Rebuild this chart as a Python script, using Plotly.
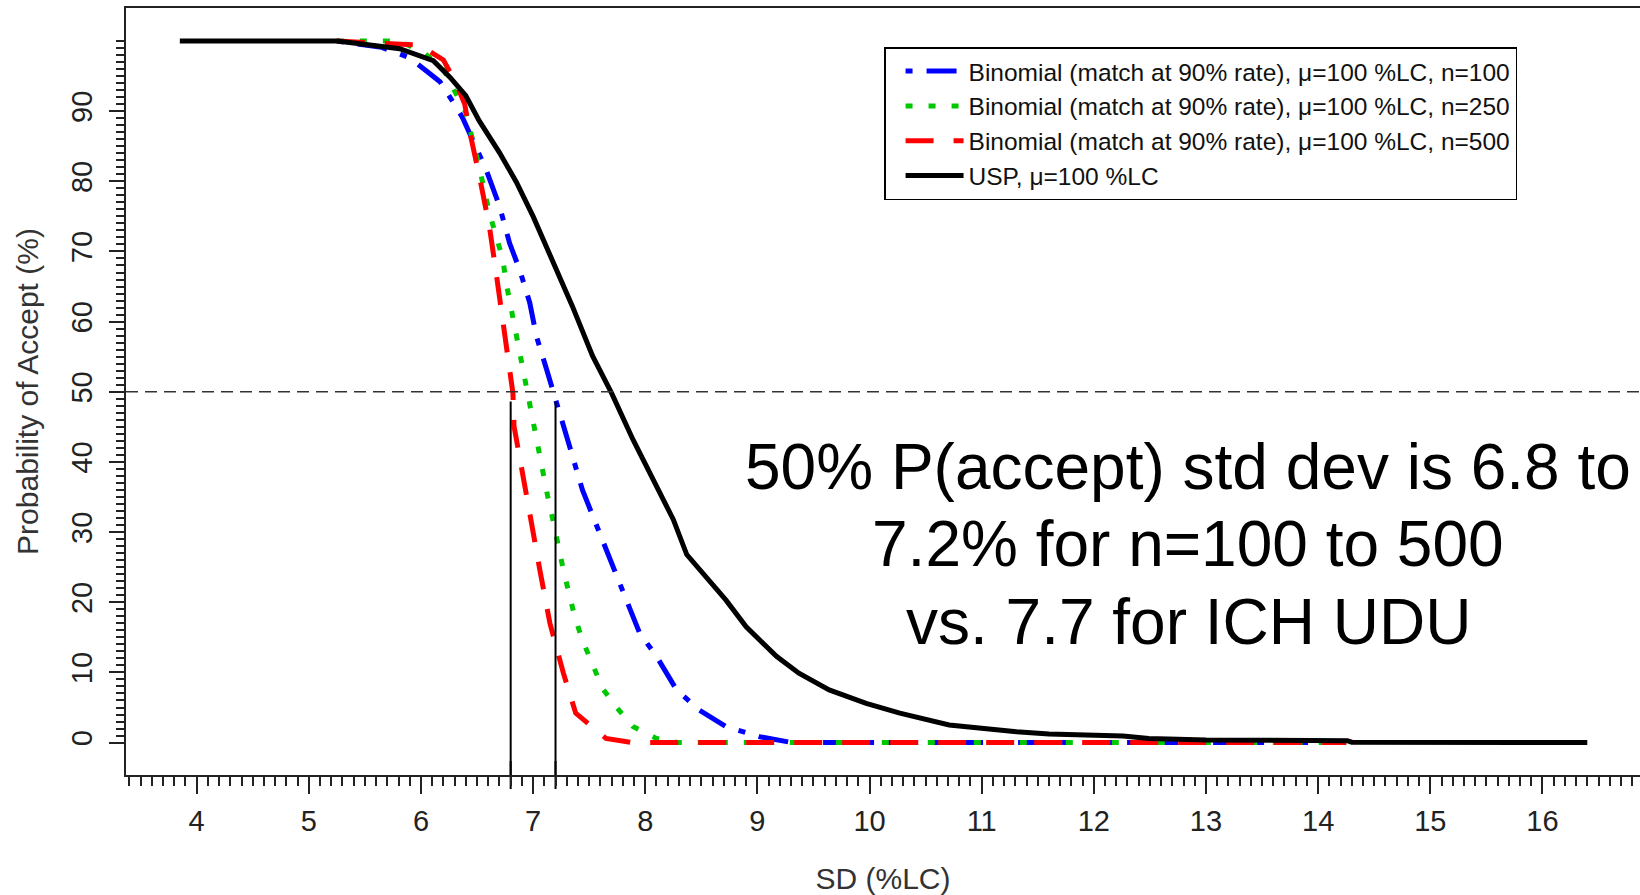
import plotly.graph_objects as go
import numpy as np

# ---------------- data ----------------
series_names = [
    "Binomial (match at 90% rate), μ=100 %LC, n=100",
    "Binomial (match at 90% rate), μ=100 %LC, n=250",
    "Binomial (match at 90% rate), μ=100 %LC, n=500",
    "USP, μ=100 %LC",
]

sd_n100 = [5.25, 5.65, 5.90, 6.00, 6.17, 6.29, 6.37, 6.58, 6.70, 6.79, 6.88, 6.97, 7.03,
           7.12, 7.21, 7.30, 7.44, 7.59, 7.71, 7.95, 8.10, 8.28, 8.48, 8.72, 9.02, 9.31, 14.25]
p_n100 = [100, 99.1, 97.6, 96.4, 94.2, 91.2, 89.1, 81.7, 76.5, 71.2, 67.4, 62.7, 57.9,
          53.2, 48.6, 43.6, 36.0, 29.9, 25.1, 15.6, 12.3, 7.5, 4.65, 2.27, 0.84, 0.0, 0.0]

sd_n250 = [5.25, 5.81, 6.02, 6.20, 6.30, 6.40, 6.51, 6.61, 6.67, 6.73, 6.76, 6.80, 6.85,
           6.89, 6.93, 6.98, 7.01, 7.06, 7.09, 7.13, 7.18, 7.22, 7.27, 7.32, 7.37, 7.44,
           7.53, 7.62, 7.74, 7.89, 8.10, 8.30, 14.25]
p_n250 = [100, 100, 98.4, 96.0, 92.9, 89.8, 82.7, 75.5, 72.2, 68.9, 65.5, 62.2, 58.4,
          55.1, 51.7, 47.9, 45.1, 41.3, 37.9, 35.1, 31.5, 28.0, 24.6, 21.3, 18.0, 14.6,
          11.3, 7.7, 5.1, 2.3, 0.6, 0.0, 0.0]

sd_n500 = [5.25, 5.99, 6.20, 6.31, 6.39, 6.43, 6.52, 6.61, 6.67, 6.73, 6.79, 6.82, 6.83,
           6.91, 6.98, 7.06, 7.15, 7.27, 7.38, 7.65, 7.89, 14.25]
p_n500 = [100, 99.4, 97.3, 94.1, 91.0, 87.4, 80.8, 73.6, 67.0, 60.3, 53.2, 49.8, 45.1,
          38.4, 31.8, 24.6, 17.0, 9.9, 4.2, 0.6, 0.0, 0.0]

sd_usp = [3.85, 5.25, 5.51, 5.81, 6.11, 6.26, 6.40, 6.52, 6.70, 6.85, 7.00, 7.17, 7.35,
          7.53, 7.70, 7.89, 8.07, 8.25, 8.37, 8.54, 8.72, 8.90, 9.17, 9.37, 9.64, 9.97,
          10.27, 10.71, 11.01, 11.31, 11.60, 11.90, 12.26, 12.49, 13.00, 14.26, 14.30, 16.40]
p_usp = [100, 100, 99.5, 98.9, 97.2, 94.8, 92.2, 88.6, 84.1, 79.9, 75.0, 68.9, 62.2,
         55.1, 49.8, 43.2, 37.5, 31.8, 26.8, 23.7, 20.3, 16.5, 12.3, 9.9, 7.5, 5.6,
         4.2, 2.5, 2.0, 1.56, 1.23, 1.08, 0.94, 0.6, 0.37, 0.27, 0.05, 0.0]

ref_prob = 50                 # horizontal dashed reference
sd_at_50 = [6.8, 7.2]         # vertical markers
vline_top = 48.6

x_tick_vals = [4.0, 4.5, 5.0, 5.5, 6.0, 6.5, 7.0, 7.5, 8.0, 8.5, 9.0, 9.5, 10.0, 10.5,
               11.0, 11.5, 12.0, 12.5, 13.0, 13.5, 14.0, 14.5, 15.0, 15.5, 16.0, 16.5]
x_tick_text = ["4", "", "5", "", "6", "", "7", "", "8", "", "9", "", "10", "",
               "11", "", "12", "", "13", "", "14", "", "15", "", "16", ""]
y_tick_vals = [0, 10, 20, 30, 40, 50, 60, 70, 80, 90, 100]
y_tick_text = ["0", "10", "20", "30", "40", "50", "60", "70", "80", "90", ""]

note_lines = ["50% P(accept) std dev is 6.8 to", "7.2% for n=100 to 500", "vs. 7.7 for ICH UDU"]

# ---------------- styling ----------------
X_RANGE = [3.37, 16.87]
Y_RANGE = [-4.62, 104.7]
FONT = "Liberation Sans, Arial, sans-serif"
AX = "#222222"

x_minor = [round(v, 1) for v in np.arange(3.4, 16.85, 0.1)]
y_minor = list(range(0, 101, 1))

styles = [
    dict(color="#0000FF", dash="7px,14px,30px,14px"),
    dict(color="#00C800", dash="7px,16px"),
    dict(color="#FF0000", dash="28px,20px"),
    dict(color="#000000", dash="solid"),
]
xs = [sd_n100, sd_n250, sd_n500, sd_usp]
ys = [p_n100, p_n250, p_n500, p_usp]

fig = go.Figure()
for name, x, y, st in zip(series_names, xs, ys, styles):
    fig.add_trace(go.Scatter(x=x, y=y, mode="lines", name=name,
                             line=dict(color=st["color"], dash=st["dash"], width=5)))

# short stubs of the vertical markers that run past the x axis into the tick area
fig.add_trace(go.Scatter(x=sd_at_50, y=[Y_RANGE[0]] * len(sd_at_50), mode="markers",
                         showlegend=False, hoverinfo="skip", cliponaxis=False,
                         marker=dict(symbol="line-ns", size=20, color="#000000",
                                     line=dict(color="#000000", width=2))))

def ypaper(v):
    return (v - Y_RANGE[0]) / (Y_RANGE[1] - Y_RANGE[0])

shapes = [dict(type="line", xref="paper", x0=0, x1=1, yref="y", y0=ref_prob, y1=ref_prob,
               line=dict(color="#333333", width=1.5, dash="12px,7px"))]
for v in sd_at_50:
    shapes.append(dict(type="line", xref="x", x0=v, x1=v, yref="y",
                       y0=Y_RANGE[0], y1=vline_top,
                       line=dict(color="#000000", width=2)))

note_y = [0.4016, 0.3012, 0.1995]
annotations = [dict(text=t, xref="paper", yref="paper", x=0.7015, y=yy, xanchor="center",
                    yanchor="middle", showarrow=False,
                    font=dict(family=FONT, size=64, color="#000000"))
               for t, yy in zip(note_lines, note_y)]

fig.update_layout(
    width=1640, height=895,
    margin=dict(l=126, r=0, t=8, b=120),
    plot_bgcolor="white", paper_bgcolor="white",
    font=dict(family=FONT, color=AX),
    shapes=shapes, annotations=annotations,
    showlegend=True,
    legend=dict(x=0.5007, y=0.949, xanchor="left", yanchor="top",
                bgcolor="white", bordercolor="#000000", borderwidth=1.5,
                font=dict(family=FONT, size=24.5, color="#111111"),
                itemwidth=58, indentation=15, tracegroupgap=0),
)

fig.update_xaxes(
    range=X_RANGE, showgrid=False, zeroline=False,
    showline=True, linecolor=AX, linewidth=2, mirror=True,
    ticks="outside", ticklen=17, tickwidth=2, tickcolor=AX,
    tickmode="array", tickvals=x_tick_vals, ticktext=x_tick_text,
    tickfont=dict(family=FONT, size=29, color=AX), ticklabelstandoff=2,
    minor=dict(tickmode="array", tickvals=x_minor, ticks="outside", ticklen=9,
               tickwidth=2, tickcolor=AX),
    title=dict(text="SD (%LC)", font=dict(family=FONT, size=30, color="#333333"), standoff=34),
)
fig.update_yaxes(
    range=Y_RANGE, showgrid=False, zeroline=False,
    showline=True, linecolor=AX, linewidth=2, mirror=False,
    ticks="outside", ticklen=15, tickwidth=2, tickcolor=AX,
    tickmode="array", tickvals=y_tick_vals, ticktext=y_tick_text, tickangle=-90,
    tickfont=dict(family=FONT, size=29, color=AX), ticklabelstandoff=5,
    minor=dict(tickmode="array", tickvals=y_minor, ticks="outside", ticklen=8,
               tickwidth=2, tickcolor=AX),
    title=dict(text="Probability of Accept (%)", font=dict(family=FONT, size=30, color="#333333"),
               standoff=19),
)

fig.write_html("out.html", config={"displayModeBar": False},
               post_script="document.body.style.margin='0';")
